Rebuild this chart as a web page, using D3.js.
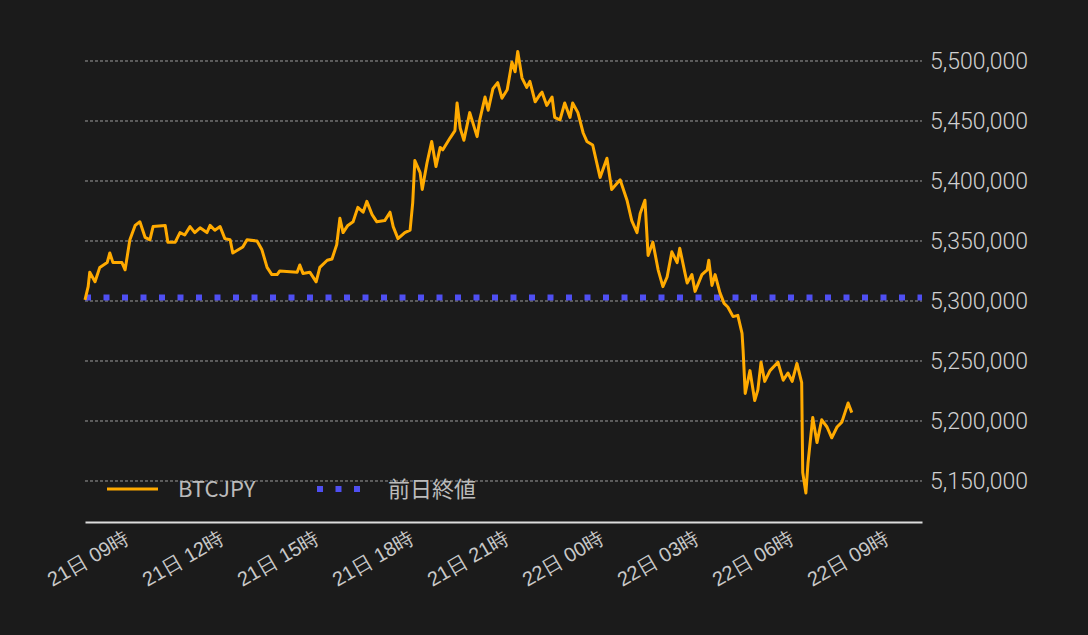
<!DOCTYPE html>
<html><head><meta charset="utf-8">
<script src="https://cdn.jsdelivr.net/npm/d3@7"></script>
<style>body{margin:0;background:#1b1b1b;}svg{display:block;font-family:"Noto Sans CJK JP","Noto Sans",sans-serif;}</style>
</head><body><svg id="c" width="1088" height="635"></svg>
<script>
// minutes since 21日 07:30
const minutes=[0,6,9,19,28,42,47,53,70,76,85,95,104,114,123,129,152,157,171,180,189,199,208,218,231,237,246,256,265,275,280,299,307,326,335,345,354,364,369,402,407,413,426,438,445,459,468,477,483,489,498,508,517,527,534,544,553,568,578,584,593,606,616,621,625,635,639,648,657,665,673,678,692,701,705,711,718,729,743,748,758,764,773,782,790,800,809,815,820,828,837,843,853,862,866,875,885,890,900,909,919,924,934,944,951,962,976,989,998,1014,1027,1036,1046,1052,1061,1067,1076,1086,1095,1103,1112,1122,1127,1137,1141,1150,1156,1169,1179,1182,1188,1194,1203,1211,1218,1228,1237,1245,1247,1251,1260,1269,1275,1281,1288,1298,1313,1323,1332,1340,1349,1358,1360,1366,1370,1379,1387,1396,1406,1415,1425,1434,1440,1446,1453];
// price in thousand JPY
const prices=[5301,5312,5324,5316,5328,5332,5340,5332,5332,5326,5351,5363,5366,5353,5351,5362,5363,5349,5349,5357,5355,5362,5357,5361,5357,5363,5359,5362,5352,5351,5340,5345,5351,5350,5343,5328,5322,5322,5325,5324,5330,5323,5324,5316,5328,5334,5335,5347,5369,5357,5363,5366,5378,5374,5383,5372,5366,5367,5374,5362,5352,5357,5359,5382,5417,5407,5393,5415,5433,5412,5428,5426,5436,5442,5465,5444,5434,5457,5437,5451,5470,5459,5477,5482,5469,5476,5499,5491,5508,5486,5478,5483,5466,5472,5474,5463,5470,5453,5451,5465,5453,5465,5457,5440,5433,5430,5403,5419,5393,5401,5384,5367,5357,5373,5384,5338,5349,5326,5312,5320,5341,5332,5344,5323,5315,5322,5308,5322,5326,5334,5313,5322,5307,5298,5295,5287,5288,5273,5259,5223,5242,5217,5226,5249,5233,5242,5249,5234,5240,5233,5248,5232,5157,5140,5165,5203,5182,5201,5195,5186,5195,5199,5207,5215,5207];
const prevClose=5303000;
const yTicks=[5150000,5200000,5250000,5300000,5350000,5400000,5450000,5500000];
const seriesNames=["BTCJPY","前日終値"];

const t0=new Date(2024,0,21,7,30);
const data=minutes.map((m,i)=>({t:new Date(t0.getTime()+m*60000),v:prices[i]*1000}));
const svg=d3.select("#c");
const x=d3.scaleTime().domain([t0,new Date(t0.getTime()+1586*60000)]).range([85,922]);
const y=d3.scaleLinear().domain([5115833,5517500]).range([522,40]);

svg.append("g").selectAll("line").data(yTicks).join("line")
 .attr("x1",85).attr("x2",922).attr("y1",d=>y(d)).attr("y2",d=>y(d))
 .attr("stroke","#bdbdbd").attr("stroke-width",0.8).attr("stroke-dasharray","3,2");
const ya=svg.append("g").attr("transform","translate(922,0)").call(d3.axisRight(y).tickValues(yTicks).tickSize(0).tickPadding(8).tickFormat(d3.format(",")));
ya.select(".domain").remove();
ya.selectAll("text").attr("fill","#d0d0d0").style("font-size","23px").style("font-weight","300").style("font-family","Roboto,'Noto Sans',sans-serif");
const xt=d3.range(0,9).map(i=>new Date(t0.getTime()+(90+180*i)*60000));
const xa=svg.append("g").attr("transform","translate(0,522)").call(d3.axisBottom(x).tickValues(xt).tickSize(0).tickFormat(d=>d3.timeFormat("%d日 %H時")(d)));
xa.select(".domain").attr("stroke","#ddd").attr("stroke-width",2);
xa.selectAll("text").attr("fill","#c8c8c8").style("font-size","20px").attr("text-anchor","end")
 .attr("transform","translate(-6,14) rotate(-30)").attr("dy","0.35em").attr("y",0);
svg.append("line").attr("x1",85).attr("x2",922).attr("y1",y(prevClose)).attr("y2",y(prevClose))
 .attr("stroke","#4f4ff2").attr("stroke-width",6).attr("stroke-dasharray","6,12.5");
svg.append("path").datum(data).attr("fill","none").attr("stroke","#ffaa00").attr("stroke-width",3)
 .attr("stroke-linejoin","round").attr("d",d3.line().x(d=>x(d.t)).y(d=>y(d.v)));
const lg=svg.append("g");
lg.append("line").attr("x1",107).attr("x2",158).attr("y1",489).attr("y2",489).attr("stroke","#ffaa00").attr("stroke-width",3);
lg.append("text").attr("x",178).attr("y",489).attr("dy","0.35em").text(seriesNames[0]).attr("fill","#bbb").style("font-size","22px");
lg.append("line").attr("x1",317).attr("x2",363).attr("y1",489).attr("y2",489).attr("stroke","#4f4ff2").attr("stroke-width",6).attr("stroke-dasharray","6,12.5");
lg.append("text").attr("x",388).attr("y",489).attr("dy","0.35em").text(seriesNames[1]).attr("fill","#bbb").style("font-size","22px");
</script></body></html>
